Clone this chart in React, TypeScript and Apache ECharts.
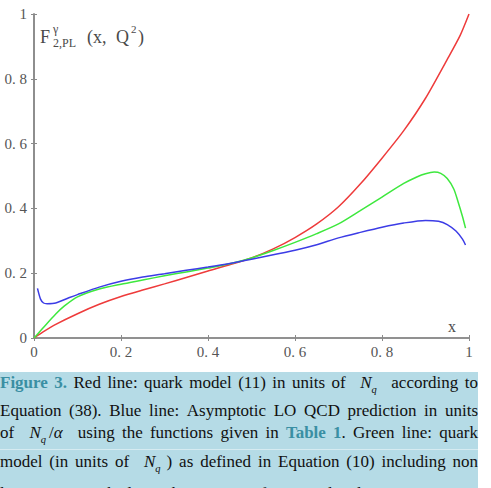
import React, { useEffect, useRef } from 'react';
import * as echarts from 'echarts';

// ---- data ----
const tickValues = [0, 0.2, 0.4, 0.6, 0.8, 1];

const redX = [0, 0.02, 0.05, 0.1, 0.15, 0.2, 0.25, 0.3, 0.35, 0.4, 0.45, 0.5, 0.55, 0.6, 0.65, 0.7, 0.75, 0.8, 0.85, 0.9, 0.95, 0.98, 1.0];
const redY = [0, 0.018, 0.042, 0.075, 0.104, 0.128, 0.148, 0.167, 0.187, 0.207, 0.226, 0.247, 0.275, 0.31, 0.352, 0.405, 0.475, 0.555, 0.64, 0.74, 0.86, 0.935, 1.0];

const greenX = [0, 0.01, 0.02, 0.05, 0.07, 0.1, 0.15, 0.2, 0.25, 0.3, 0.35, 0.4, 0.45, 0.5, 0.55, 0.6, 0.65, 0.7, 0.75, 0.8, 0.85, 0.88, 0.9, 0.92, 0.935, 0.95, 0.965, 0.975, 0.985, 0.992];
const greenY = [0, 0.015, 0.03, 0.074, 0.099, 0.127, 0.151, 0.166, 0.179, 0.192, 0.204, 0.216, 0.229, 0.247, 0.27, 0.295, 0.322, 0.352, 0.393, 0.435, 0.477, 0.497, 0.507, 0.512, 0.508, 0.492, 0.46, 0.42, 0.375, 0.339];

const blueX = [0.008, 0.015, 0.022, 0.03, 0.05, 0.08, 0.1, 0.15, 0.2, 0.25, 0.3, 0.35, 0.4, 0.45, 0.5, 0.55, 0.6, 0.65, 0.7, 0.75, 0.8, 0.85, 0.9, 0.93, 0.95, 0.97, 0.985, 0.992];
const blueY = [0.153, 0.12, 0.108, 0.106, 0.108, 0.124, 0.134, 0.157, 0.175, 0.188, 0.198, 0.209, 0.219, 0.23, 0.243, 0.257, 0.271, 0.288, 0.309, 0.326, 0.342, 0.355, 0.363, 0.36, 0.35, 0.33, 0.305, 0.287];

const captionLines = [
  '{b|Figure} {b|3.} Red line: quark model (11) in units of {p|8}{i|N}{s|q}{p|8} according to',
  'Equation (38). Blue line: Asymptotic LO QCD prediction in units',
  'of {p|8}{i|N}{s|q}{p|3}{n|/}{i|α}{p|8} using the functions given in {b|Table} {b|1}{n|.} Green line: quark',
  'model (in units of {p|8}{i|N}{s|q}{p|6}{n|)} as defined in Equation (10) including non',
  'linear terms in the logarithm. See text for more details.',
];
const captionBaselines = [388.7, 416, 438.7, 467.7, 499];

const SERIF = '"Liberation Serif", "Times New Roman", serif';
const TEAL = '#3a8fa3';
const CAP_FS = 17;

type Run = { k: string; t: string };

function parseWord(w: string): Run[] {
  const out: Run[] = [];
  const re = /\{(\w)\|([^}]*)\}|([^{]+)/g;
  let m: RegExpExecArray | null;
  while ((m = re.exec(w))) {
    if (m[1]) out.push({ k: m[1], t: m[2] });
    else out.push({ k: 'n', t: m[3] });
  }
  return out;
}

function runFont(k: string) {
  if (k === 'b') return { fontSize: CAP_FS, fontWeight: 'bold', fontStyle: 'normal' };
  if (k === 'i') return { fontSize: CAP_FS, fontWeight: 'normal', fontStyle: 'italic' };
  if (k === 's') return { fontSize: 10.5, fontWeight: 'normal', fontStyle: 'italic' };
  return { fontSize: CAP_FS, fontWeight: 'normal', fontStyle: 'normal' };
}

function buildCaption(): any[] {
  const canvas = document.createElement('canvas');
  const ctx = canvas.getContext('2d')!;
  const measure = (t: string, k: string) => {
    const f = runFont(k);
    ctx.font = `${f.fontStyle} ${f.fontWeight} ${f.fontSize}px ${SERIF}`;
    return ctx.measureText(t).width;
  };
  const els: any[] = [];
  const left = 0;
  const right = 478;
  captionLines.forEach((line, li) => {
    const words = line.split(' ').map(parseWord);
    const widths = words.map((runs) =>
      runs.reduce((s, r) => s + (r.k === 'p' ? Number(r.t) : measure(r.t, r.k)), 0)
    );
    const spaceW = measure(' ', 'n');
    const natural = widths.reduce((a, b) => a + b, 0) + spaceW * (words.length - 1);
    const justify = li < captionLines.length - 1;
    const gap = justify && words.length > 1 ? spaceW + (right - left - natural) / (words.length - 1) : spaceW;
    let x = left;
    const base = captionBaselines[li];
    words.forEach((runs, wi) => {
      runs.forEach((r) => {
        if (r.k === 'p') {
          x += Number(r.t);
          return;
        }
        const f = runFont(r.k);
        const b = r.k === 's' ? base + 4 : base;
        els.push({
          type: 'text',
          x,
          y: b - 0.34 * f.fontSize,
          silent: true,
          style: {
            text: r.t,
            fill: r.k === 'b' ? TEAL : '#111',
            fontFamily: SERIF,
            fontSize: f.fontSize,
            fontWeight: f.fontWeight,
            fontStyle: f.fontStyle,
            textAlign: 'left',
            textVerticalAlign: 'middle',
          },
        });
        x += measure(r.t, r.k);
      });
      if (wi < words.length - 1) x += gap;
    });
  });
  return els;
}

const zip = (xs: number[], ys: number[]) => xs.map((x, i) => [x, ys[i]]);

const fmt = (v: number) => {
  if (Math.abs(v) < 1e-9) return '0';
  if (Math.abs(v - 1) < 1e-9) return '1';
  return v.toFixed(1).replace('.', '. ');
};

const FRAME = '#8a8a8a';

function axisBase(position: string, showLabel: boolean, isX: boolean) {
  return {
    type: 'value',
    min: tickValues[0],
    max: tickValues[tickValues.length - 1],
    interval: 0.2,
    position,
    axisLine: { show: true, lineStyle: { color: FRAME, width: 1.6 } },
    axisTick: { show: true, inside: true, length: 3, lineStyle: { color: FRAME, width: 1 } },
    axisLabel: {
      show: showLabel,
      formatter: fmt,
      color: '#555',
      fontFamily: SERIF,
      fontSize: 15,
      margin: isX ? 6 : 7,
    },
    splitLine: { show: false },
  };
}

function titleText(text: string, x: number, baseline: number, size: number) {
  return {
    type: 'text',
    x,
    y: baseline - 0.34 * size,
    silent: true,
    style: {
      text,
      fill: '#4a4a4a',
      fontFamily: SERIF,
      fontSize: size,
      textAlign: 'left',
      textVerticalAlign: 'middle',
    },
  };
}

export default function App() {
  const ref = useRef<HTMLDivElement>(null);
  useEffect(() => {
    document.body.style.margin = '0';
    const chart = echarts.init(ref.current!, undefined, { renderer: 'svg' });
    const option: any = {
      animation: false,
      backgroundColor: '#ffffff',
      grid: { left: 34, top: 14, width: 435, height: 324, containLabel: false },
      xAxis: [axisBase('bottom', true, true), axisBase('top', false, true)],
      yAxis: [axisBase('left', true, false), axisBase('right', false, false)],
      series: [
        {
          type: 'line', name: 'red', data: zip(redX, redY), showSymbol: false, smooth: 0.25,
          lineStyle: { color: '#ee3b3b', width: 1.5 }, itemStyle: { color: '#ee3b3b' }, silent: true,
        },
        {
          type: 'line', name: 'green', data: zip(greenX, greenY), showSymbol: false, smooth: 0.25,
          lineStyle: { color: '#3ee83e', width: 1.5 }, itemStyle: { color: '#3ee83e' }, silent: true,
        },
        {
          type: 'line', name: 'blue', data: zip(blueX, blueY), showSymbol: false, smooth: 0.25,
          lineStyle: { color: '#3c3ce6', width: 1.5 }, itemStyle: { color: '#3c3ce6' }, silent: true,
        },
      ],
      graphic: [
        titleText('F', 40, 43.5, 18),
        titleText('γ', 53, 33.5, 12),
        titleText('2,PL', 53, 47.5, 12),
        titleText('(x,', 87, 43.5, 18),
        titleText('Q', 116, 43.5, 18),
        titleText('2', 131, 33, 11),
        titleText(')', 138, 43.5, 18),
        titleText('x', 448, 332, 16),
        {
          type: 'rect', silent: true, z: -1,
          shape: { x: 0, y: 372, width: 478, height: 116 },
          style: { fill: '#b5dbe6' },
        },
        {
          type: 'rect', silent: true,
          shape: { x: 0, y: 449, width: 478, height: 1 },
          style: { fill: 'rgba(255,255,255,0.45)' },
        },
        ...buildCaption(),
      ],
    };
    chart.setOption(option);
    return () => chart.dispose();
  }, []);
  return <div ref={ref} style={{ width: 491, height: 488 }} />;
}
